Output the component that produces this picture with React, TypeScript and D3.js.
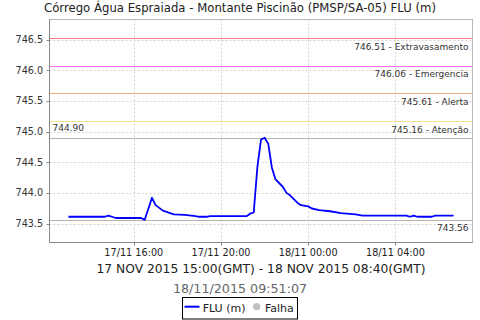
import React from "react";
import * as d3 from "d3";

// ---- data (local time, GMT-2) ----
const startLocal = Date.UTC(2015, 10, 17, 13, 0); // 17/11 13:00 local == 15:00 GMT
const minutes = [0, 100, 110, 120, 130, 200, 210, 230, 240, 260, 290, 320, 350, 360, 380, 390, 490, 500, 510, 520, 530, 540, 550, 560, 570, 590, 600, 610, 630, 640, 660, 670, 690, 720, 750, 790, 810, 930, 940, 950, 960, 1000, 1010, 1060];
const flu = [743.61, 743.61, 743.63, 743.61, 743.59, 743.59, 743.56, 743.92, 743.8, 743.71, 743.65, 743.64, 743.62, 743.61, 743.61, 743.62, 743.62, 743.66, 743.68, 744.42, 744.87, 744.9, 744.8, 744.41, 744.22, 744.1, 744.0, 743.96, 743.84, 743.8, 743.78, 743.745, 743.72, 743.7, 743.67, 743.65, 743.63, 743.63, 743.61, 743.63, 743.61, 743.61, 743.63, 743.63];

const thresholdValues = [746.51, 746.06, 745.61, 745.16];
const thresholdNames = ["Extravasamento", "Emergencia", "Alerta", "Atenção"];
const thresholdColors = ["#ff8080", "#ff70ff", "#f2b07e", "#f2e08a"];
const maxValue = 744.9;
const minValue = 743.56;

const yTicks = [743.5, 744.0, 744.5, 745.0, 745.5, 746.0, 746.5];
const title = "Córrego Água Espraiada - Montante Piscinão (PMSP/SA-05) FLU (m)";
const subtitle = "17 NOV 2015 15:00(GMT) - 18 NOV 2015 08:40(GMT)";
const stamp = "18/11/2015 09:51:07";
const legendItems = ["FLU (m)", "Falha"];

const W = 480, H = 320;
const L = 49.5, R = 472.5, T = 19.5, B = 242.5;
const FONT = "'DejaVu Sans', sans-serif";

const py = (v: number) => Math.round(v) + 0.5;

export default function App() {
  const pts = minutes.map((m, i) => ({ t: new Date(startLocal + m * 60000), v: flu[i] }));
  const x = d3.scaleUtc()
    .domain([new Date(startLocal - 52 * 60000), new Date(startLocal + 1112 * 60000)])
    .range([L, R]);
  const y = d3.scaleLinear().domain([743.19, 746.83]).range([B, T]);
  const xTicks = x.ticks(d3.utcHour.every(4)!);
  const fmt = d3.utcFormat("%d/%m %H:%M");
  const line = d3.line<{ t: Date; v: number }>().x(d => x(d.t)).y(d => y(d.v));

  return (
    <svg width={W} height={H} style={{ position: "absolute", left: 0, top: 0, background: "#fff" }} fontFamily={FONT}>
      <rect x={0} y={0} width={W} height={H} fill="#fff" />
      <text x={240} y={12} textAnchor="middle" fontSize={11.7} fill="#222">{title}</text>
      {/* grid */}
      {yTicks.map(v => (
        <line key={"gy" + v} x1={L} x2={R} y1={py(y(v))} y2={py(y(v))} stroke="#d2d2d2" strokeDasharray="2,2" />
      ))}
      {xTicks.map(t => (
        <line key={"gx" + t.getTime()} y1={T} y2={B} x1={py(x(t))} x2={py(x(t))} stroke="#d2d2d2" strokeDasharray="2,2" />
      ))}
      {/* thresholds */}
      {thresholdValues.map((v, i) => (
        <g key={"th" + v}>
          <line x1={L} x2={R} y1={py(y(v)) - 1} y2={py(y(v)) - 1} stroke={thresholdColors[i]} strokeWidth={1} />
          <text x={468.5} y={y(v) + 10.8} textAnchor="end" fontSize={9} fill="#333">{`${v.toFixed(2)} - ${thresholdNames[i]}`}</text>
        </g>
      ))}
      {/* max / min */}
      <line x1={L} x2={R} y1={py(y(maxValue))} y2={py(y(maxValue))} stroke="#b4b4b4" />
      <text x={52.5} y={y(maxValue) - 6.3} fontSize={9} fill="#333">{maxValue.toFixed(2)}</text>
      <line x1={L} x2={R} y1={py(y(minValue))} y2={py(y(minValue))} stroke="#b4b4b4" />
      <text x={468.5} y={y(minValue) + 11.1} textAnchor="end" fontSize={9} fill="#333">{minValue.toFixed(2)}</text>
      {/* data */}
      <path d={line(pts) || ""} fill="none" stroke="#0000ff" strokeWidth={1.8} strokeLinejoin="round" />
      {/* frame */}
      <rect x={L} y={T} width={R - L} height={B - T} fill="none" stroke="#b8b8b8" />
      <line x1={L} x2={L} y1={T} y2={B} stroke="#888" />
      <line x1={L} x2={R} y1={B} y2={B} stroke="#888" />
      {/* y axis */}
      {yTicks.map(v => (
        <g key={"ty" + v}>
          <line x1={L - 3} x2={L} y1={py(y(v))} y2={py(y(v))} stroke="#888" />
          <text x={43} y={y(v) + 3.4} textAnchor="end" fontSize={9.6} fill="#333">{v.toFixed(1)}</text>
        </g>
      ))}
      {/* x axis */}
      {xTicks.map(t => (
        <g key={"tx" + t.getTime()}>
          <line y1={B} y2={B + 3} x1={py(x(t))} x2={py(x(t))} stroke="#888" />
          <text x={x(t)} y={255.5} textAnchor="middle" fontSize={9.7} fill="#222">{fmt(t)}</text>
        </g>
      ))}
      <text x={(L + R) / 2} y={272.7} textAnchor="middle" fontSize={12.3} fill="#222">{subtitle}</text>
      <text x={240} y={292.7} textAnchor="middle" fontSize={12.7} fill="#666">{stamp}</text>
      {/* legend */}
      <rect x={182.5} y={297.5} width={115} height={21.5} fill="#fff" stroke="#000" />
      <line x1={184.5} x2={199.5} y1={306.7} y2={306.7} stroke="#0000ff" strokeWidth={2} />
      <text x={202.7} y={311.7} fontSize={11} fill="#222">{legendItems[0]}</text>
      <circle cx={256.7} cy={306.7} r={3.6} fill="#c0c0c0" />
      <text x={265} y={311.7} fontSize={11} fill="#222">{legendItems[1]}</text>
    </svg>
  );
}
